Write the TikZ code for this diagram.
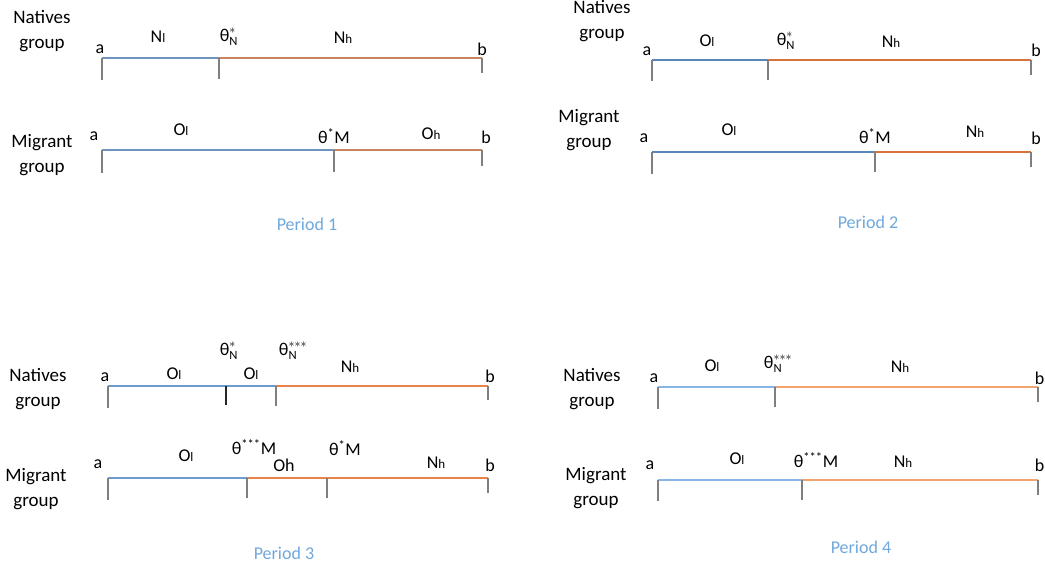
\documentclass[tikz,border=0pt]{standalone}
\usepackage{fontspec}
\setmainfont{Carlito}
\begin{document}
\definecolor{lowA}{HTML}{6E94BC}
\definecolor{highA}{HTML}{C9845A}
\definecolor{lowB}{HTML}{5B87B8}
\definecolor{highB}{HTML}{D9733A}
\definecolor{lowC}{HTML}{6C9CCF}
\definecolor{highC}{HTML}{E8844A}
\definecolor{lowD}{HTML}{86B6E6}
\definecolor{highD}{HTML}{F2A46E}
\definecolor{tickgray}{HTML}{7F7F7F}
\definecolor{periodblue}{HTML}{6FA8DC}
\newcommand{\sm}[1]{{\fontsize{13}{13}\selectfont #1}}
\newcommand{\thN}[1]{$\hbox{θ}_{\mathrm{N}}^{#1}$}
\begin{tikzpicture}[x=1pt,y=-1pt,
  grp/.style={align=center,font=\fontsize{19}{25}\selectfont,inner sep=0pt},
  lbl/.style={font=\fontsize{18}{20}\selectfont,inner sep=0pt},
  period/.style={font=\fontsize{18}{20}\selectfont,text=periodblue,inner sep=0pt},
  seg/.style={line width=2pt},
  tickmark/.style={draw=tickgray,line width=1.6pt},
  darktick/.style={draw=black!85,line width=1.4pt}]
\useasboundingbox (0,0) rectangle (1045,567);

% ---------- Period 1 ----------
\node[grp] (g1n) at (42,31) {Natives\\group};
\coordinate (p1na) at (102,58);
\coordinate (p1nt) at (219,58);
\coordinate (p1nb) at (482,58);
\draw[seg,lowA] (p1na) -- (p1nt);
\draw[seg,highA] (p1nt) -- (p1nb);
\draw[tickmark] (p1na) -- ++(0,22);
\draw[tickmark] (p1nt) -- ++(0,21);
\draw[tickmark] (p1nb) -- ++(0,15);
\node[lbl] (l1a) at (100,49) {a};
\node[lbl] (l1nl) at (158,37) {N\sm{l}};
\node[lbl] (l1th) at (229,37) {\thN{*}};
\node[lbl] (l1nh) at (343,38) {N\sm{h}};
\node[lbl] (l1b) at (482,49) {b};

\node[grp] (g1m) at (42,155) {Migrant\\group};
\coordinate (p1ma) at (102,150);
\coordinate (p1mt) at (334,150);
\coordinate (p1mb) at (482,150);
\draw[seg,lowA] (p1ma) -- (p1mt);
\draw[seg,highA] (p1mt) -- (p1mb);
\draw[tickmark] (p1ma) -- ++(0,23);
\draw[tickmark] (p1mt) -- ++(0,22);
\draw[tickmark] (p1mb) -- ++(0,16);
\node[lbl] (m1a) at (94,136) {a};
\node[lbl] (m1ol) at (181,130) {O\sm{l}};
\node[lbl] (m1th) at (334,136) {θ\textsuperscript{*}M};
\node[lbl] (m1oh) at (431,134) {O\sm{h}};
\node[lbl] (m1b) at (486,137) {b};
\node[period] (per1) at (307,224) {Period 1};

% ---------- Period 2 ----------
\node[grp] (g2n) at (602,21) {Natives\\group};
\coordinate (p2na) at (652,60);
\coordinate (p2nt) at (768,60);
\coordinate (p2nb) at (1031,60);
\draw[seg,lowB] (p2na) -- (p2nt);
\draw[seg,highB] (p2nt) -- (p2nb);
\draw[tickmark] (p2na) -- ++(0,21);
\draw[tickmark] (p2nt) -- ++(0,20);
\draw[tickmark] (p2nb) -- ++(0,15);
\node[lbl] (l2a) at (647,51) {a};
\node[lbl] (l2ol) at (707,41) {O\sm{l}};
\node[lbl] (l2th) at (786,41) {\thN{*}};
\node[lbl] (l2nh) at (891,42) {N\sm{h}};
\node[lbl] (l2b) at (1036,50) {b};

\node[grp] (g2m) at (589,130) {Migrant\\group};
\coordinate (p2ma) at (652,152);
\coordinate (p2mt) at (875,152);
\coordinate (p2mb) at (1031,152);
\draw[seg,lowB] (p2ma) -- (p2mt);
\draw[seg,highB] (p2mt) -- (p2mb);
\draw[tickmark] (p2ma) -- ++(0,22);
\draw[tickmark] (p2mt) -- ++(0,20);
\draw[tickmark] (p2mb) -- ++(0,15);
\node[lbl] (m2a) at (644,138) {a};
\node[lbl] (m2ol) at (729,130) {O\sm{l}};
\node[lbl] (m2th) at (875,136) {θ\textsuperscript{*}M};
\node[lbl] (m2nh) at (975,132) {N\sm{h}};
\node[lbl] (m2b) at (1036,138) {b};
\node[period] (per2) at (868,222) {Period 2};

% ---------- Period 3 ----------
\node[grp] (g3n) at (38,389) {Natives\\group};
\coordinate (p3na) at (108,386);
\coordinate (p3ns) at (226,386);
\coordinate (p3nt) at (276,386);
\coordinate (p3nb) at (488,386);
\draw[seg,lowC] (p3na) -- (p3nt);
\draw[seg,highC] (p3nt) -- (p3nb);
\draw[tickmark] (p3na) -- ++(0,22);
\draw[darktick] (p3ns) -- ++(0,19);
\draw[tickmark] (p3nt) -- ++(0,20);
\draw[tickmark] (p3nb) -- ++(0,14);
\node[lbl] (l3a) at (105,377) {a};
\node[lbl] (l3ol) at (174,374) {O\sm{l}};
\node[lbl] (l3th) at (229,351) {\thN{*}};
\node[lbl] (l3ol2) at (251,374) {O\sm{l}};
\node[lbl] (l3th2) at (293,351) {\thN{***}};
\node[lbl] (l3nh) at (350,367) {N\sm{h}};
\node[lbl] (l3b) at (490,376) {b};

\node[grp] (g3m) at (36,489) {Migrant\\group};
\coordinate (p3ma) at (108,478);
\coordinate (p3mt) at (247,478);
\coordinate (p3ms) at (327,478);
\coordinate (p3mb) at (488,478);
\draw[seg,lowC] (p3ma) -- (p3mt);
\draw[seg,highC] (p3mt) -- (p3mb);
\draw[tickmark] (p3ma) -- ++(0,22);
\draw[tickmark] (p3mt) -- ++(0,20);
\draw[tickmark] (p3ms) -- ++(0,20);
\draw[tickmark] (p3mb) -- ++(0,15);
\node[lbl] (m3a) at (98,464) {a};
\node[lbl] (m3ol) at (186,456) {O\sm{l}};
\node[lbl] (m3th) at (254,447) {θ\textsuperscript{***}M};
\node[lbl] (m3oh) at (284,465) {Oh};
\node[lbl] (m3th2) at (345,448) {θ\textsuperscript{*}M};
\node[lbl] (m3nh) at (436,463) {N\sm{h}};
\node[lbl] (m3b) at (490,465) {b};
\node[period] (per3) at (284,553) {Period 3};

% ---------- Period 4 ----------
\node[grp] (g4n) at (592,389) {Natives\\group};
\coordinate (p4na) at (658,387);
\coordinate (p4nt) at (775,387);
\coordinate (p4nb) at (1038,387);
\draw[seg,lowD] (p4na) -- (p4nt);
\draw[seg,highD] (p4nt) -- (p4nb);
\draw[tickmark] (p4na) -- ++(0,22);
\draw[tickmark] (p4nt) -- ++(0,20);
\draw[tickmark] (p4nb) -- ++(0,15);
\node[lbl] (l4a) at (654,378) {a};
\node[lbl] (l4ol) at (712,366) {O\sm{l}};
\node[lbl] (l4th) at (778,364) {\thN{***}};
\node[lbl] (l4nh) at (900,367) {N\sm{h}};
\node[lbl,anchor=east] (l4b) at (1044.5,378) {b};

\node[grp] (g4m) at (596,488) {Migrant\\group};
\coordinate (p4ma) at (658,480);
\coordinate (p4mt) at (802,480);
\coordinate (p4mb) at (1038,480);
\draw[seg,lowD] (p4ma) -- (p4mt);
\draw[seg,highD] (p4mt) -- (p4mb);
\draw[tickmark] (p4ma) -- ++(0,21);
\draw[tickmark] (p4mt) -- ++(0,20);
\draw[tickmark] (p4mb) -- ++(0,15);
\node[lbl] (m4a) at (650,465) {a};
\node[lbl] (m4ol) at (737,459) {O\sm{l}};
\node[lbl] (m4th) at (816,460) {θ\textsuperscript{***}M};
\node[lbl] (m4nh) at (903,462) {N\sm{h}};
\node[lbl,anchor=east] (m4b) at (1044.5,465) {b};
\node[period] (per4) at (861,547) {Period 4};
\end{tikzpicture}
\end{document}
